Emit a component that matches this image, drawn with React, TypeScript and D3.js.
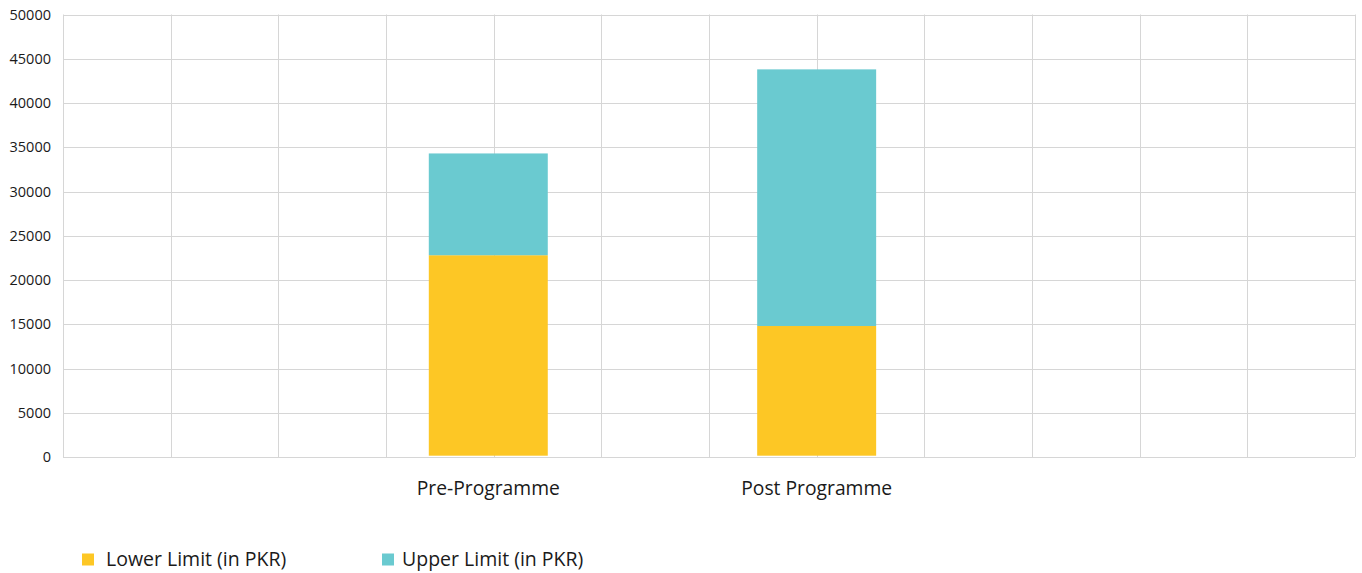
import React from "react";
import * as d3 from "d3";

// Salary band (PKR) before and after the programme
const categories = ["Pre-Programme", "Post Programme"];
const lowerLimit = [22800, 14800];
const upperLimitSpan = [11500, 29000];
const seriesNames = ["Lower Limit (in PKR)", "Upper Limit (in PKR)"];
const yTicks = [0, 5000, 10000, 15000, 20000, 25000, 30000, 35000, 40000, 45000, 50000];

const W = 1362;
const H = 573;
const M = { left: 63, right: 7, top: 14.5, bottom: 116 };
const COLORS = ["#FDC725", "#6ACAD0"];
const GRID = "#d6d6d6";
const FONT = "'Open Sans', 'Noto Sans', sans-serif";

// The plot is split into 12 equal columns; the bars sit on these slot positions.
const COLUMNS = 12;
const SLOT = [3.95, 7];

// Legend entries: swatch x and text gap after the swatch
const LEGEND_X = [82, 382];
const LEGEND_GAP = [24, 20];

export default function App() {
  const x = d3.scaleLinear().domain([0, COLUMNS]).range([M.left, W - M.right]);
  const y = d3.scaleLinear().domain([0, 50000]).range([H - M.bottom, M.top]);
  const unit = x(1) - x(0);
  const barW = unit * 1.105;

  const stacked = d3
    .stack<number>()
    .keys(["lower", "upper"])
    .value((i, key) => (key === "lower" ? lowerLimit[i] : upperLimitSpan[i]))(
    categories.map((_, i) => i)
  );

  const crisp = (v: number) => Math.round(v) + 0.5;

  return (
    <div style={{ position: "absolute", left: 0, top: 0 }}>
      <svg width={W} height={H} style={{ display: "block", background: "#fff" }}>
        {/* horizontal grid */}
        {yTicks.map((t) => (
          <line
            key={"h" + t}
            x1={M.left}
            x2={W - M.right}
            y1={crisp(y(t))}
            y2={crisp(y(t))}
            stroke={GRID}
            strokeWidth={1}
          />
        ))}
        {/* vertical grid */}
        {d3.range(COLUMNS + 1).map((c) => (
          <line
            key={"v" + c}
            x1={crisp(x(c))}
            x2={crisp(x(c))}
            y1={y(50000)}
            y2={y(0)}
            stroke={GRID}
            strokeWidth={1}
          />
        ))}
        {/* y tick labels */}
        {yTicks.map((t) => (
          <text
            key={"t" + t}
            x={51}
            y={y(t)}
            dy="0.35em"
            textAnchor="end"
            fontFamily={FONT}
            fontSize={14.5}
            fill="#1a1a1a"
          >
            {t}
          </text>
        ))}
        {/* stacked bars */}
        {stacked.map((layer, li) =>
          layer.map((d, i) => (
            <rect
              key={li + "-" + i}
              x={x(SLOT[i]) - barW / 2}
              y={y(d[1])}
              width={barW}
              height={y(d[0]) - y(d[1]) - (li === 0 ? 1.3 : 0)}
              fill={COLORS[li]}
            />
          ))
        )}
        {/* category labels */}
        {categories.map((c, i) => (
          <text
            key={c}
            x={x(SLOT[i])}
            y={495}
            textAnchor="middle"
            fontFamily={FONT}
            fontSize={19.3}
            fill="#1a1a1a"
          >
            {c}
          </text>
        ))}
        {/* legend */}
        {seriesNames.map((s, i) => (
          <g key={s} transform={`translate(${LEGEND_X[i]},553.5)`}>
            <rect width={12} height={12} fill={COLORS[i]} />
            <text x={12 + LEGEND_GAP[i] - 12} y={6} dy="0.35em" fontFamily={FONT} fontSize={19.5} fill="#1a1a1a">
              {s}
            </text>
          </g>
        ))}
      </svg>
    </div>
  );
}
